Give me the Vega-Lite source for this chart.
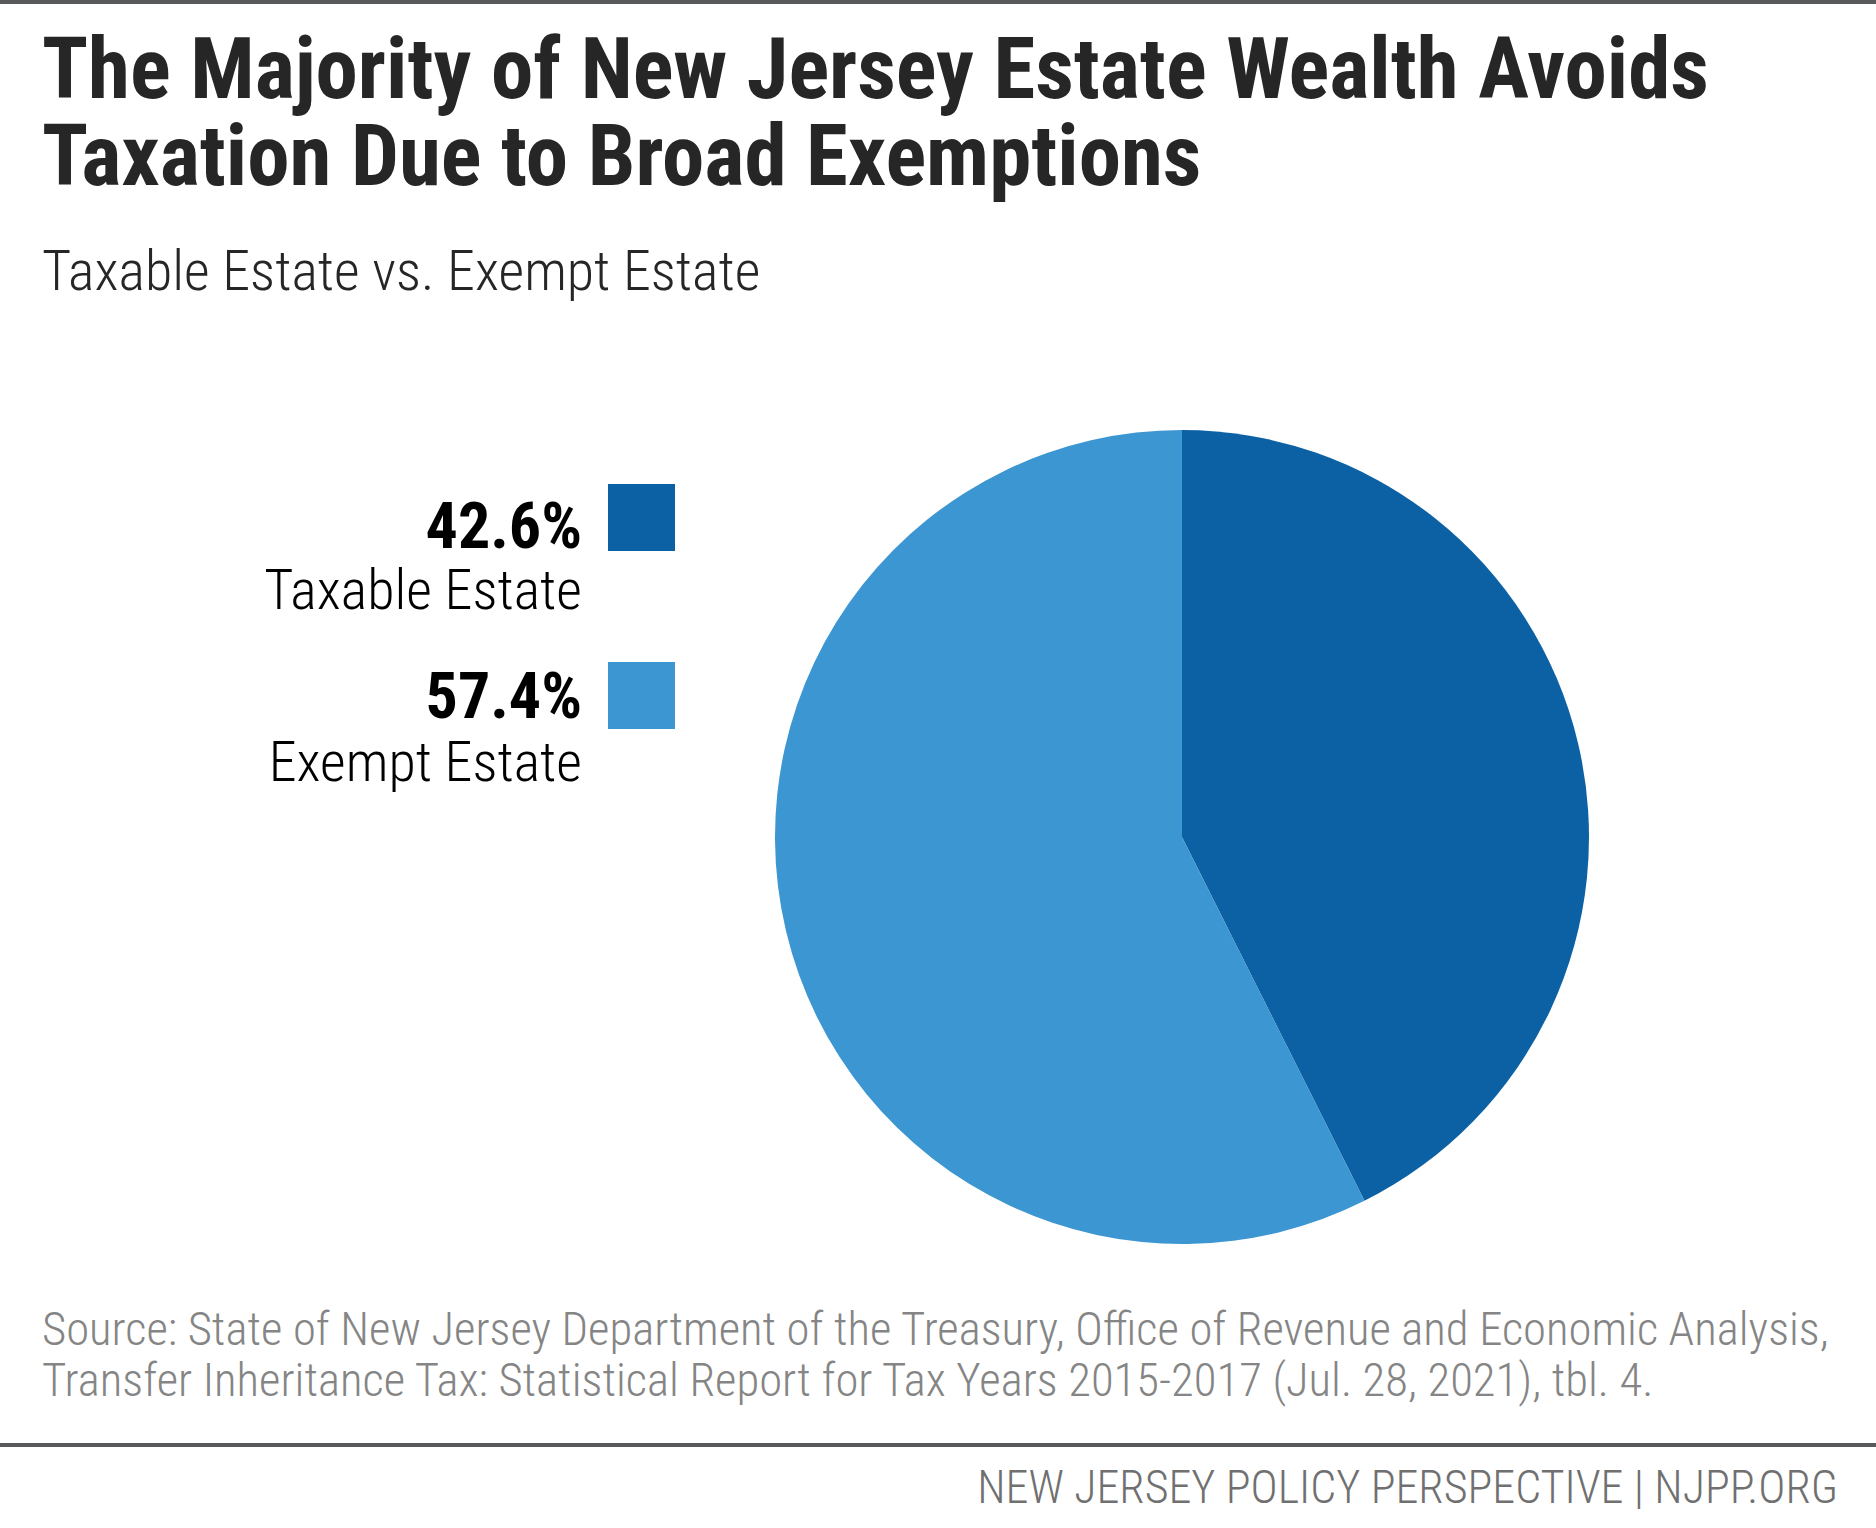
{
  "$schema": "https://vega.github.io/schema/vega-lite/v6.json",
  "width": 1876,
  "height": 1528,
  "autosize": {"type": "none"},
  "padding": 0,
  "background": "#ffffff",
  "config": {"view": {"stroke": null}},
  "title": {
    "text": ["The Majority of New Jersey Estate Wealth Avoids", "Taxation Due to Broad Exemptions"],
    "subtitle": "Taxable Estate vs. Exempt Estate",
    "anchor": "start",
    "frame": "group",
    "orient": "top",
    "offset": -302,
    "dx": 42,
    "font": "Roboto Condensed, DejaVu Sans Condensed, sans-serif",
    "fontSize": 85,
    "fontWeight": "bold",
    "color": "#262626",
    "lineHeight": 87,
    "subtitleFont": "Roboto Condensed, DejaVu Sans Condensed, sans-serif",
    "subtitleFontSize": 56,
    "subtitleFontWeight": 300,
    "subtitleColor": "#262626",
    "subtitlePadding": 43
  },
  "data": {"values": [
    {"category": "Taxable Estate", "share": 0.426},
    {"category": "Exempt Estate", "share": 0.574}
  ]},
  "resolve": {"scale": {"y": "independent"}},
  "layer": [
    {
      "data": {"values": [{}]},
      "mark": {"type": "rule", "color": "#58595B", "strokeWidth": 4},
      "encoding": {
        "y": {"datum": 2, "scale": {"domain": [0, 1528], "reverse": true, "nice": false, "zero": false}, "axis": null}
      }
    },
    {
      "data": {"values": [{}]},
      "mark": {"type": "rule", "color": "#58595B", "strokeWidth": 4},
      "encoding": {
        "y": {"datum": 1445, "scale": {"domain": [0, 1528], "reverse": true, "nice": false, "zero": false}, "axis": null}
      }
    },
    {
      "mark": {"type": "arc", "radius": 407, "stroke": null},
      "encoding": {
        "theta": {"field": "share", "type": "quantitative", "stack": true},
        "order": {"field": "category", "sort": "descending"},
        "color": {"field": "category", "type": "nominal", "scale": {"domain": ["Taxable Estate", "Exempt Estate"], "range": ["#0C61A4", "#3C96D1"]}, "legend": null},
        "x": {"datum": 1182, "scale": {"domain": [0, 1876], "nice": false, "zero": false}, "axis": null},
        "y": {"datum": 837, "scale": {"domain": [0, 1528], "reverse": true, "nice": false, "zero": false}, "axis": null}
      }
    },
    {
      "mark": {"type": "square", "size": 4489, "filled": true, "opacity": 1},
      "encoding": {
        "color": {"field": "category", "type": "nominal", "legend": null},
        "x": {"datum": 641.5, "scale": {"domain": [0, 1876], "nice": false, "zero": false}, "axis": null},
        "y": {"field": "category", "type": "nominal", "scale": {"type": "point", "domain": ["Taxable Estate", "Exempt Estate"], "range": [517.5, 695.5], "padding": 0}, "axis": null}
      }
    },
    {
      "mark": {"type": "text", "align": "right", "baseline": "alphabetic", "font": "Roboto Condensed, DejaVu Sans Condensed, sans-serif", "fontSize": 64, "fontWeight": "bold", "color": "#000000"},
      "encoding": {
        "text": {"field": "share", "type": "quantitative", "format": ".1%"},
        "x": {"datum": 582, "scale": {"domain": [0, 1876], "nice": false, "zero": false}, "axis": null},
        "y": {"field": "category", "type": "nominal", "scale": {"type": "point", "domain": ["Taxable Estate", "Exempt Estate"], "range": [548, 718], "padding": 0}, "axis": null}
      }
    },
    {
      "mark": {"type": "text", "align": "right", "baseline": "alphabetic", "font": "Roboto Condensed, DejaVu Sans Condensed, sans-serif", "fontSize": 56, "fontWeight": 300, "color": "#000000"},
      "encoding": {
        "text": {"field": "category", "type": "nominal"},
        "x": {"datum": 582, "scale": {"domain": [0, 1876], "nice": false, "zero": false}, "axis": null},
        "y": {"field": "category", "type": "nominal", "scale": {"type": "point", "domain": ["Taxable Estate", "Exempt Estate"], "range": [609, 781], "padding": 0}, "axis": null}
      }
    },
    {
      "data": {"values": [{}]},
      "mark": {"type": "text", "align": "left", "baseline": "alphabetic", "font": "Roboto Condensed, DejaVu Sans Condensed, sans-serif", "fontSize": 46.7, "fontWeight": 300, "color": "#858585", "lineHeight": 51,
        "text": ["Source: State of New Jersey Department of the Treasury, Office of Revenue and Economic Analysis,", "Transfer Inheritance Tax: Statistical Report for Tax Years 2015-2017 (Jul. 28, 2021), tbl. 4."]},
      "encoding": {
        "x": {"datum": 42, "scale": {"domain": [0, 1876], "nice": false, "zero": false}, "axis": null},
        "y": {"datum": 1345, "scale": {"domain": [0, 1528], "reverse": true, "nice": false, "zero": false}, "axis": null}
      }
    },
    {
      "data": {"values": [{}]},
      "mark": {"type": "text", "align": "right", "baseline": "alphabetic", "font": "Roboto Condensed, DejaVu Sans Condensed, sans-serif", "fontSize": 46, "fontWeight": 300, "color": "#707070",
        "text": "NEW JERSEY POLICY PERSPECTIVE | NJPP.ORG"},
      "encoding": {
        "x": {"datum": 1838, "scale": {"domain": [0, 1876], "nice": false, "zero": false}, "axis": null},
        "y": {"datum": 1503, "scale": {"domain": [0, 1528], "reverse": true, "nice": false, "zero": false}, "axis": null}
      }
    }
  ]
}
